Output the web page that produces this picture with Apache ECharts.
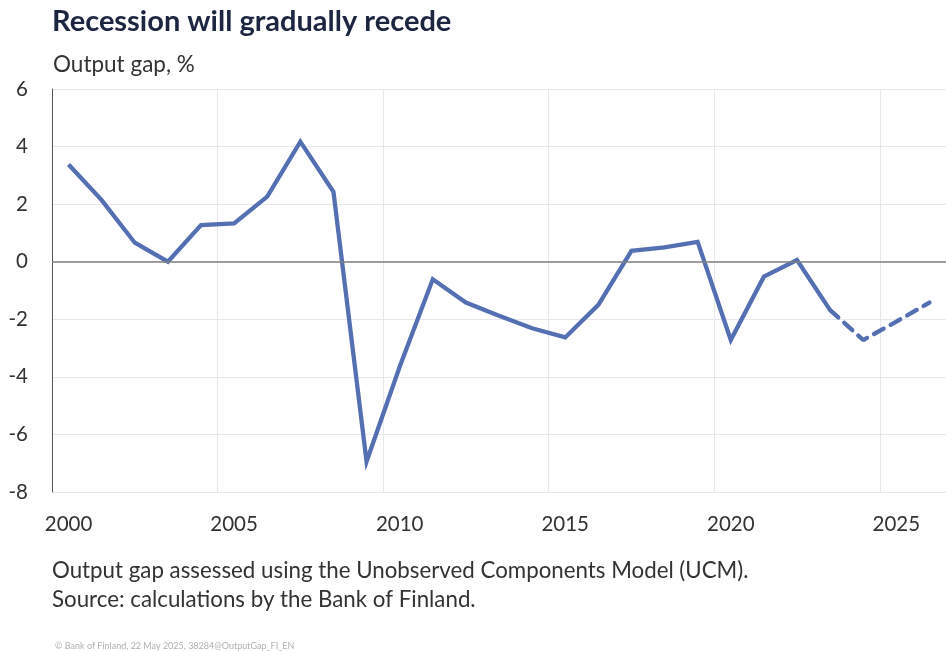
<!DOCTYPE html>
<html>
<head>
<meta charset="utf-8">
<script src="https://cdn.jsdelivr.net/npm/echarts@6/dist/echarts.min.js"></script>
<style>
html,body{margin:0;padding:0;background:#fff;}
#chart{width:946px;height:651px;}
</style>
</head>
<body>
<div id="chart"></div>
<script>
// Data
const years = ['2000','2001','2002','2003','2004','2005','2006','2007','2008','2009','2010','2011','2012','2013','2014','2015','2016','2017','2018','2019','2020','2021','2022','2023','2024','2025','2026'];
const actualGap = [3.38,2.14,0.66,0.0,1.27,1.33,2.26,4.17,2.43,-6.94,-3.65,-0.61,-1.42,-1.88,-2.31,-2.63,-1.5,0.38,0.5,0.69,-2.72,-0.52,0.06,-1.68,null,null,null];
const forecastGap = [null,null,null,null,null,null,null,null,null,null,null,null,null,null,null,null,null,null,null,null,null,null,null,-1.68,-2.72,-2.08,-1.42];
const yTicks = {min:-8, max:6, interval:2};

const FONT = 'Lato';
const chart = echarts.init(document.getElementById('chart'), null, {renderer:'canvas'});
chart.setOption({
  animation:false,
  backgroundColor:'#ffffff',
  title:[
    {text:'Recession will gradually recede', left:47, top:2,
     textStyle:{fontFamily:FONT, fontWeight:'bold', fontSize:29, color:'#1d2640'}},
    {text:'Output gap, %', left:48, top:48,
     textStyle:{fontFamily:FONT, fontWeight:'normal', fontSize:22.5, color:'#333333'}},
    {text:'Output gap assessed using the Unobserved Components Model (UCM).', left:47, top:555,
     textStyle:{fontFamily:FONT, fontWeight:'normal', fontSize:22.3, color:'#333333'}},
    {text:'Source: calculations by the Bank of Finland.', left:47, top:584,
     textStyle:{fontFamily:FONT, fontWeight:'normal', fontSize:22.3, color:'#333333'}},
    {text:'© Bank of Finland, 22 May 2025, 38284@OutputGap_FI_EN', left:50, top:637,
     textStyle:{fontFamily:FONT, fontWeight:'normal', fontSize:9, color:'#b0b0b0'}}
  ],
  grid:{left:52, top:89, width:900, bottom:159, containLabel:false},
  xAxis:{
    type:'category', data:years, boundaryGap:true,
    axisLine:{show:false},
    axisTick:{show:false, interval:4},
    axisLabel:{interval:4, margin:22, fontFamily:FONT, fontSize:20.5, color:'#333333'},
    splitLine:{show:true, interval:4, lineStyle:{color:'#e8e8ec', width:1}}
  },
  yAxis:{
    type:'value', min:yTicks.min, max:yTicks.max, interval:yTicks.interval,
    axisLine:{show:true, onZero:false, lineStyle:{color:'#555555', width:1}},
    axisTick:{show:false},
    axisLabel:{margin:24, fontFamily:FONT, fontSize:20.5, color:'#333333'},
    splitLine:{show:true, lineStyle:{color:'#e8e8ec', width:1}}
  },
  series:[
    {type:'line', data:actualGap, showSymbol:false, symbol:'none', connectNulls:false,
     lineStyle:{color:'#5470b2', width:4.3, join:'miter'},
     markLine:{silent:true, symbol:'none', label:{show:false},
       lineStyle:{color:'#808080', type:'solid', width:1.5}, data:[{yAxis:0}]}},
    {type:'line', data:forecastGap, showSymbol:false, symbol:'none',
     lineStyle:{color:'#5470b2', width:4.3, type:[11,8], cap:'round'}}
  ]
});
</script>
</body>
</html>
